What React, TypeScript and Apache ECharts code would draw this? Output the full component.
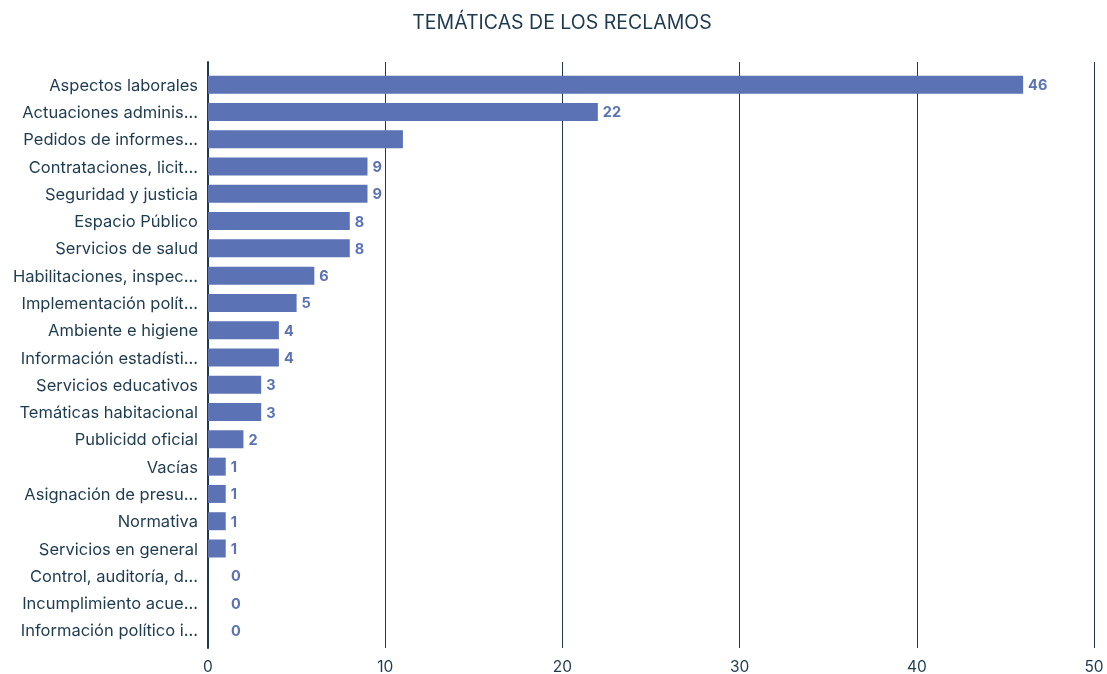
import React, { useEffect, useRef } from "react";
import * as echarts from "echarts";

const categories = [
  "Aspectos laborales",
  "Actuaciones adminis...",
  "Pedidos de informes...",
  "Contrataciones, licit...",
  "Seguridad y justicia",
  "Espacio Público",
  "Servicios de salud",
  "Habilitaciones, inspec...",
  "Implementación polít...",
  "Ambiente e higiene",
  "Información estadísti...",
  "Servicios educativos",
  "Temáticas habitacional",
  "Publicidd oficial",
  "Vacías",
  "Asignación de presu...",
  "Normativa",
  "Servicios en general",
  "Control, auditoría, d...",
  "Incumplimiento acue...",
  "Información político i...",
];
const values = [46, 22, 11, 9, 9, 8, 8, 6, 5, 4, 4, 3, 3, 2, 1, 1, 1, 1, 0, 0, 0];
const hiddenLabels = ["Pedidos de informes..."];
const xTicks = { min: 0, max: 50, interval: 10 };
const title = "TEMÁTICAS DE LOS RECLAMOS";

const TEXT = "#1d3a4f";
const BAR = "#5b72b5";
const FONT = "Inter, 'Noto Sans', sans-serif";

export default function App() {
  const ref = useRef<HTMLDivElement>(null);
  useEffect(() => {
    if (!ref.current) return;
    const chart = echarts.init(ref.current, undefined, { renderer: "svg" });
    const data = values.map((v, i) => {
      const item: any = { value: v };
      if (hiddenLabels.includes(categories[i])) item.label = { show: false };
      else if (v === 0) item.label = { distance: 23 };
      return item;
    });
    chart.setOption({
      animation: false,
      title: {
        text: title,
        left: 557,
        textAlign: "center",
        top: 7,
        textStyle: { color: TEXT, fontSize: 19.5, fontWeight: "normal", fontFamily: FONT },
      },
      grid: [
        { left: 208, right: 13, top: 62, bottom: 26 },
        { left: 208, right: 13, top: 71, bottom: 30 },
      ],
      xAxis: [
        {
          gridIndex: 0,
          type: "value",
          min: xTicks.min,
          max: xTicks.max,
          interval: xTicks.interval,
          axisLine: { show: false },
          axisTick: { show: false },
          axisLabel: { color: TEXT, fontSize: 15.5, fontFamily: FONT, margin: 10 },
          splitLine: { show: true, lineStyle: { color: TEXT, width: 1 } },
        },
        {
          gridIndex: 1,
          type: "value",
          min: xTicks.min,
          max: xTicks.max,
          interval: xTicks.interval,
          show: false,
        },
      ],
      yAxis: [
        {
          gridIndex: 0,
          type: "category",
          data: [""],
          axisLine: { show: true, lineStyle: { color: TEXT, width: 2 } },
          axisTick: { show: false },
          axisLabel: { show: false },
        },
        {
          gridIndex: 1,
          type: "category",
          inverse: true,
          data: categories,
          axisLine: { show: false },
          axisTick: { show: false },
          axisLabel: { color: TEXT, fontSize: 16.5, fontFamily: FONT, margin: 10 },
        },
      ],
      series: [
        {
          type: "bar",
          xAxisIndex: 1,
          yAxisIndex: 1,
          data,
          barWidth: 18,
          itemStyle: { color: BAR },
          label: {
            show: true,
            position: "right",
            distance: 5,
            color: BAR,
            fontWeight: "bold",
            fontSize: 14.5,
            fontFamily: FONT,
          },
        },
      ],
    });
    return () => chart.dispose();
  }, []);
  return (
    <div
      ref={ref}
      style={{ position: "fixed", left: 0, top: 0, width: 1107, height: 674 }}
    />
  );
}
